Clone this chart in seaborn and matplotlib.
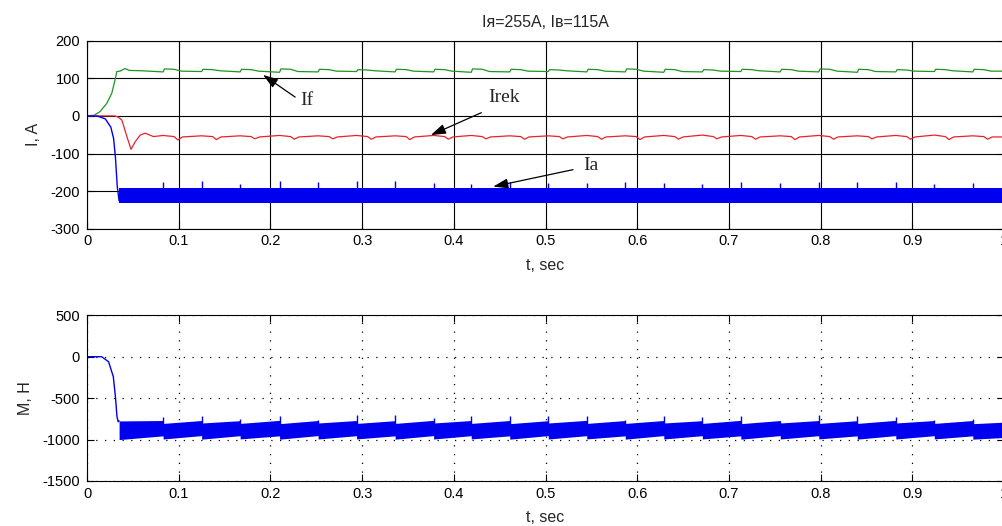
import pandas as pd
import matplotlib
matplotlib.use('Agg')
import matplotlib.pyplot as plt
import seaborn as sns

# ---- values ----
# times of the periodic steps (same in every trace)
pulse_t = [0.083, 0.125, 0.167, 0.210, 0.252, 0.294, 0.336, 0.378, 0.419, 0.461, 0.503,
           0.545, 0.587, 0.629, 0.671, 0.713, 0.756, 0.798, 0.840, 0.882, 0.924, 0.966]

# If (green)
if_start_t = [0, 0.008, 0.014, 0.0215, 0.027, 0.031, 0.0325, 0.036, 0.0415, 0.046, 0.06, 0.075]
if_start_v = [0, 2, 11, 33, 60, 100, 118, 119, 126, 121, 120, 118]
if_low = [117, 118, 117, 116, 117, 118, 117, 117, 116, 117, 118,
          117, 117, 116, 117, 118, 117, 117, 116, 117, 118, 117]
if_peak = [125, 124, 124, 125, 124, 123, 124, 124, 125, 124, 123,
           124, 125, 124, 123, 124, 124, 125, 124, 123, 124, 124]

# Irek (red)
irek_start_t = [0, 0.030, 0.034, 0.038, 0.0435, 0.048, 0.0525, 0.058, 0.0635, 0.0725]
irek_start_v = [0, 0, -3, -11, -55, -89, -69, -51, -46, -55]
irek_bump = [-52, -53, -53, -52, -53, -52, -53, -52, -52, -53, -53,
             -52, -53, -52, -51, -52, -53, -52, -53, -52, -51, -53]
irek_dip = [-64, -63, -61, -62, -61, -62, -63, -62, -61, -62, -61,
            -62, -63, -62, -61, -62, -63, -62, -61, -62, -63, -62]

# Ia (blue, top) - start-up then a dense band
ia_start_t = [0, 0.012, 0.02, 0.026, 0.029, 0.031, 0.033, 0.035]
ia_start_v = [0, -1, -8, -30, -60, -110, -188, -226]
ia_top = [-191, -192, -192, -192, -192, -192, -192, -192, -192, -192, -192, -192,
          -192, -192, -192, -192, -192, -192, -192, -192, -192, -192, -192]
ia_bot = [-231, -231, -231, -231, -231, -231, -231, -231, -231, -231, -231, -231,
          -231, -231, -231, -231, -231, -231, -231, -231, -231, -231, -231]
ia_spike = [-175, -173, -182, -174, -175, -174, -174, -178, -180, -177, -178,
            -179, -176, -178, -180, -175, -178, -176, -175, -175, -180, -178]

# M (blue, bottom)
m_start_t = [0, 0.016, 0.0235, 0.0287, 0.031, 0.0327, 0.034, 0.035]
m_start_v = [0, 0, -60, -241, -483, -724, -785, -775]
m_top_s = [-775, -805, -800, -805, -808, -800, -805, -805, -800, -805, -808, -800,
           -805, -805, -800, -805, -808, -800, -805, -805, -800, -805, -808]
m_top_e = [-770, -770, -772, -768, -770, -770, -772, -768, -770, -770, -772, -768,
           -770, -770, -772, -768, -770, -770, -772, -768, -770, -770, -790]
m_bot_s = [-1000, -993, -995, -992, -995, -993, -992, -995, -993, -992, -995, -993,
           -992, -995, -993, -992, -995, -993, -992, -995, -993, -992, -995]
m_bot_e = [-955, -952, -953, -955, -952, -953, -955, -952, -953, -955, -952, -953,
           -955, -952, -953, -955, -952, -953, -955, -952, -953, -955, -975]
m_spike = [-724, -712, -756, -712, -764, -704, -704, -736, -712, -712, -712,
           -716, -764, -716, -724, -712, -772, -704, -712, -724, -764, -752]

band_start = 0.035
t_end = 1.0

# ---- assemble traces ----
seg_s = [band_start] + pulse_t
seg_e = pulse_t + [t_end]

if_t, if_v = list(if_start_t), list(if_start_v)
for tb, lo, hi in zip(pulse_t, if_low, if_peak):
    if_t += [tb, tb + 0.0015, tb + 0.012, tb + 0.02]
    if_v += [lo, hi, hi - 1, lo + 2]
if_t.append(t_end)
if_v.append(119)

irek_t, irek_v = list(irek_start_t), list(irek_start_v)
for tb, bu, di in zip(pulse_t, irek_bump, irek_dip):
    irek_t += [tb, tb + 0.012, tb + 0.016, tb + 0.021]
    irek_v += [bu, -55, di, -56]
irek_t.append(t_end)
irek_v.append(-56)

ia_bx, ia_up, ia_lo = [], [], []
for s, e, tp, bt in zip(seg_s, seg_e, ia_top, ia_bot):
    ia_bx += [s, e]
    ia_up += [tp, tp]
    ia_lo += [bt, bt]

m_bx, m_up, m_lo = [], [], []
for i, (s, e) in enumerate(zip(seg_s, seg_e)):
    m_bx += [s, e]
    m_up += [m_top_s[i], m_top_e[i]]
    m_lo += [m_bot_s[i], m_bot_e[i]]

df_if = pd.DataFrame({'t': if_t, 'I': if_v})
df_irek = pd.DataFrame({'t': irek_t, 'I': irek_v})
df_ia = pd.DataFrame({'t': ia_start_t, 'I': ia_start_v})
df_m = pd.DataFrame({'t': m_start_t, 'M': m_start_v})

# ---- style ----
sns.set_style('ticks')
plt.rcParams['font.family'] = ['Liberation Sans', 'DejaVu Sans']
plt.rcParams['axes.unicode_minus'] = False
plt.rcParams['axes.edgecolor'] = 'black'
plt.rcParams['axes.linewidth'] = 0.8
plt.rcParams['xtick.color'] = 'black'
plt.rcParams['ytick.color'] = 'black'

GREEN = '#1e951e'
RED = '#e8222a'
BLUE = '#0000f0'

fig = plt.figure(figsize=(10.03, 5.26), dpi=100)
ax1 = fig.add_axes([87 / 1003, 1 - 228.7 / 526, 917 / 1003, 188 / 526])
ax2 = fig.add_axes([87 / 1003, 1 - 481 / 526, 917 / 1003, 165.7 / 526])

# top panel
sns.lineplot(data=df_if, x='t', y='I', ax=ax1, color=GREEN, linewidth=0.9, sort=False)
sns.lineplot(data=df_irek, x='t', y='I', ax=ax1, color=RED, linewidth=0.9, sort=False)
sns.lineplot(data=df_ia, x='t', y='I', ax=ax1, color=BLUE, linewidth=1.0, sort=False)
ax1.fill_between(ia_bx, ia_lo, ia_up, color=BLUE, linewidth=0, zorder=2.5)
ax1.vlines(pulse_t, -200, ia_spike, color=BLUE, linewidth=1.0, zorder=2.5)

ax1.set_xlim(0, 1)
ax1.set_ylim(-300, 200)
ax1.set_yticks([-300, -200, -100, 0, 100, 200])
ax1.set_xticks([0, 0.1, 0.2, 0.3, 0.4, 0.5, 0.6, 0.7, 0.8, 0.9, 1])
ax1.set_xticklabels(['0', '0.1', '0.2', '0.3', '0.4', '0.5', '0.6', '0.7', '0.8', '0.9', '1'])
ax1.grid(True, color='black', linestyle='-', linewidth=0.8)
ax1.set_axisbelow(True)
ax1.set_xlabel('t, sec', fontsize=11.5, labelpad=7)
ax1.set_ylabel('I, A', fontsize=11.5, labelpad=7)
ax1.set_title('Iя=255A, Iв=115A', fontsize=11.5, pad=10)

serif = ['Liberation Serif', 'DejaVu Serif']
arrow = dict(arrowstyle='-|>,head_length=0.9,head_width=0.3', color='black',
             lw=0.9, shrinkA=0, shrinkB=0)
ax1.annotate('', xy=(0.192, 109), xytext=(0.227, 50), arrowprops=arrow)
ax1.text(0.233, 40, 'If', fontsize=14, family=serif, va='center', ha='left')
ax1.annotate('', xy=(0.375, -51), xytext=(0.43, 8.5), arrowprops=arrow)
ax1.text(0.438, 50, 'Irek', fontsize=14, family=serif, va='center', ha='left')
ax1.annotate('', xy=(0.443, -188), xytext=(0.530, -143), arrowprops=arrow)
ax1.text(0.541, -131, 'Ia', fontsize=14, family=serif, va='center', ha='left')

# bottom panel
sns.lineplot(data=df_m, x='t', y='M', ax=ax2, color=BLUE, linewidth=1.0, sort=False)
ax2.fill_between(m_bx, m_lo, m_up, color=BLUE, linewidth=0, zorder=2.5)
ax2.vlines(pulse_t, -900, m_spike, color=BLUE, linewidth=1.0, zorder=2.5)

ax2.set_xlim(0, 1)
ax2.set_ylim(-1500, 500)
ax2.set_yticks([-1500, -1000, -500, 0, 500])
ax2.set_xticks([0, 0.1, 0.2, 0.3, 0.4, 0.5, 0.6, 0.7, 0.8, 0.9, 1])
ax2.set_xticklabels(['0', '0.1', '0.2', '0.3', '0.4', '0.5', '0.6', '0.7', '0.8', '0.9', '1'])
ax2.grid(True, color='black', linestyle=(0, (1, 6)), linewidth=0.9)
ax2.set_axisbelow(True)
ax2.set_xlabel('t, sec', fontsize=11.5, labelpad=7)
ax2.set_ylabel('M, H', fontsize=11.5, labelpad=7)

for ax in (ax1, ax2):
    ax.tick_params(direction='in', top=True, right=True, length=5, width=0.8,
                   labelsize=10.5)
    ax.tick_params(axis='x', pad=4)
    ax.tick_params(axis='y', pad=5)
    for sp in ax.spines.values():
        sp.set_visible(True)
        sp.set_color('black')
        sp.set_linewidth(0.8)

fig.savefig('out.png', dpi=100)
plt.close(fig)
